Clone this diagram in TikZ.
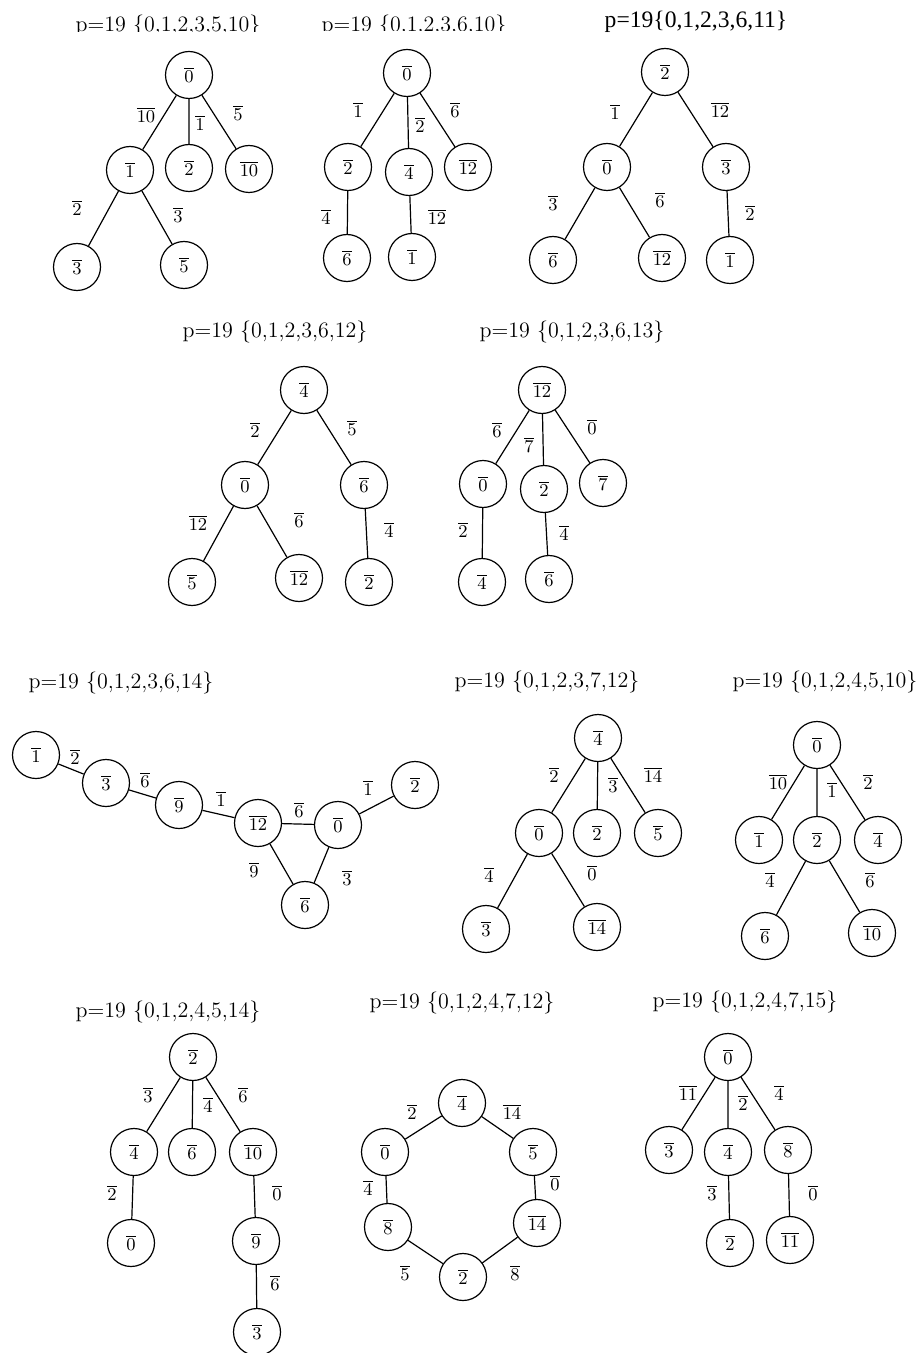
\documentclass[tikz,border=0pt]{standalone}
\usepackage{fontspec}
\newfontfamily\timesf{Liberation Serif}
\begin{document}
\begin{tikzpicture}[x=0.5pt,y=-0.5pt,
  vtx/.style={draw, circle, minimum size=23.5pt, inner sep=0pt, line width=0.6pt, font=\fontsize{9}{10}\selectfont},
  elab/.style={inner sep=0pt, font=\fontsize{9}{10}\selectfont},
  ttl/.style={inner sep=0pt, anchor=base, font=\fontsize{11}{13}\selectfont},
  edge/.style={line width=0.6pt}]
\useasboundingbox (0,0) rectangle (923,1353);
\newcommand{\ob}[1]{$\overline{#1}$}
% ---------- Graph 1
\begin{scope}
\clip (0,0) rectangle (300,31.5);
\node[ttl] (t1) at (168,32) {p=19 \{0,1,2,3,5,10\}};
\end{scope}
\node[vtx] (a0) at (189,75) {\ob{0}};
\node[vtx] (a1) at (130,170) {\ob{1}};
\node[vtx] (a2) at (189,168) {\ob{2}};
\node[vtx] (a10) at (249,169) {\ob{10}};
\node[vtx] (a3) at (77,267) {\ob{3}};
\node[vtx] (a5) at (184,265) {\ob{5}};
\draw[edge] (a0)--(a1) (a0)--(a2) (a0)--(a10) (a1)--(a3) (a1)--(a5);
\node[elab] (al1) at (146,115) {\ob{10}};
\node[elab] (al2) at (200,123) {\ob{1}};
\node[elab] (al3) at (238,113) {\ob{5}};
\node[elab] (al4) at (77,208) {\ob{2}};
\node[elab] (al5) at (178,215) {\ob{3}};
% ---------- Graph 2
\begin{scope}
\clip (300,0) rectangle (560,31);
\node[ttl] (t2) at (414,31.5) {p=19 \{0,1,2,3,6,10\}};
\end{scope}
\node[vtx] (b0) at (407,73) {\ob{0}};
\node[vtx] (b2) at (348,167) {\ob{2}};
\node[vtx] (b4) at (409,172) {\ob{4}};
\node[vtx] (b12) at (468,167) {\ob{12}};
\node[vtx] (b6) at (347,258) {\ob{6}};
\node[vtx] (b1) at (412,257) {\ob{1}};
\draw[edge] (b0)--(b2) (b0)--(b4) (b0)--(b12) (b2)--(b6) (b4)--(b1);
\node[elab] (bl1) at (358,110) {\ob{1}};
\node[elab] (bl2) at (420,125) {\ob{2}};
\node[elab] (bl3) at (455,110) {\ob{6}};
\node[elab] (bl4) at (326,217) {\ob{4}};
\node[elab] (bl5) at (437,217) {\ob{12}};
% ---------- Graph 3
\node[ttl, font=\timesf\fontsize{11.8}{14}\selectfont] (t3) at (696,28) {p=19\{0,1,2,3,6,11\}};
\node[vtx] (c2) at (665,72) {\ob{2}};
\node[vtx] (c0) at (607,167) {\ob{0}};
\node[vtx] (c3) at (726,167) {\ob{3}};
\node[vtx] (c6) at (553,260) {\ob{6}};
\node[vtx] (c12) at (662,258) {\ob{12}};
\node[vtx] (c1) at (730,260) {\ob{1}};
\draw[edge] (c2)--(c0) (c2)--(c3) (c0)--(c6) (c0)--(c12) (c3)--(c1);
\node[elab] (cl1) at (615,112) {\ob{1}};
\node[elab] (cl2) at (720,110) {\ob{12}};
\node[elab] (cl3) at (553,203) {\ob{3}};
\node[elab] (cl4) at (660,200) {\ob{6}};
\node[elab] (cl5) at (750,213) {\ob{2}};
% ---------- Graph 4
\node[ttl] (t4) at (275,337) {p=19 \{0,1,2,3,6,12\}};
\node[vtx] (d4) at (304,390) {\ob{4}};
\node[vtx] (d0) at (245,485) {\ob{0}};
\node[vtx] (d6) at (364,485) {\ob{6}};
\node[vtx] (d5) at (192,582) {\ob{5}};
\node[vtx] (d12) at (299,578) {\ob{12}};
\node[vtx] (d2) at (369,582) {\ob{2}};
\draw[edge] (d4)--(d0) (d4)--(d6) (d0)--(d5) (d0)--(d12) (d6)--(d2);
\node[elab] (dl1) at (255,430) {\ob{2}};
\node[elab] (dl2) at (352,428) {\ob{5}};
\node[elab] (dl3) at (198,523) {\ob{12}};
\node[elab] (dl4) at (299,520) {\ob{6}};
\node[elab] (dl5) at (389,530) {\ob{4}};
% ---------- Graph 5
\node[ttl] (t5) at (572,337) {p=19 \{0,1,2,3,6,13\}};
\node[vtx] (e12) at (542,390) {\ob{12}};
\node[vtx] (e0) at (483,484) {\ob{0}};
\node[vtx] (e2) at (544,489) {\ob{2}};
\node[vtx] (e7) at (603,483) {\ob{7}};
\node[vtx] (e4) at (482,582) {\ob{4}};
\node[vtx] (e6) at (549,579) {\ob{6}};
\draw[edge] (e12)--(e0) (e12)--(e2) (e12)--(e7) (e0)--(e4) (e2)--(e6);
\node[elab] (el1) at (497,430) {\ob{6}};
\node[elab] (el2) at (529,445) {\ob{7}};
\node[elab] (el3) at (592,427) {\ob{0}};
\node[elab] (el4) at (463,530) {\ob{2}};
\node[elab] (el5) at (564,533) {\ob{4}};
% ---------- Graph 6
\node[ttl] (t6) at (121,688) {p=19 \{0,1,2,3,6,14\}};
\node[vtx] (f1) at (36,755) {\ob{1}};
\node[vtx] (f3) at (106,783) {\ob{3}};
\node[vtx] (f9) at (179,805) {\ob{9}};
\node[vtx] (f12) at (258,823) {\ob{12}};
\node[vtx] (f0) at (338,825) {\ob{0}};
\node[vtx] (f2) at (415,785) {\ob{2}};
\node[vtx] (f6) at (305,905) {\ob{6}};
\draw[edge] (f1)--(f3) (f3)--(f9) (f9)--(f12) (f12)--(f0) (f0)--(f2) (f12)--(f6) (f0)--(f6);
\node[elab] (fl1) at (75,757) {\ob{2}};
\node[elab] (fl2) at (145,780) {\ob{6}};
\node[elab] (fl3) at (221,799) {\ob{1}};
\node[elab] (fl4) at (299,810) {\ob{6}};
\node[elab] (fl5) at (368,788) {\ob{1}};
\node[elab] (fl6) at (254,870) {\ob{9}};
\node[elab] (fl7) at (347,878) {\ob{3}};
% ---------- Graph 7
\node[ttl] (t7) at (547,687) {p=19 \{0,1,2,3,7,12\}};
\node[vtx] (g4) at (598,738) {\ob{4}};
\node[vtx] (g0) at (539,833) {\ob{0}};
\node[vtx] (g2) at (597,833) {\ob{2}};
\node[vtx] (g5) at (658,833) {\ob{5}};
\node[vtx] (g3) at (486,929) {\ob{3}};
\node[vtx] (g14) at (597,927) {\ob{14}};
\draw[edge] (g4)--(g0) (g4)--(g2) (g4)--(g5) (g0)--(g3) (g0)--(g14);
\node[elab] (gl1) at (554,775) {\ob{2}};
\node[elab] (gl2) at (613,785) {\ob{3}};
\node[elab] (gl3) at (653,775) {\ob{14}};
\node[elab] (gl4) at (489,875) {\ob{4}};
\node[elab] (gl5) at (592,873) {\ob{0}};
% ---------- Graph 8
\node[ttl] (t8) at (825,687) {p=19 \{0,1,2,4,5,10\}};
\node[vtx] (h0) at (817,745) {\ob{0}};
\node[vtx] (h1) at (759,840) {\ob{1}};
\node[vtx] (h2) at (817,840) {\ob{2}};
\node[vtx] (h4) at (878,840) {\ob{4}};
\node[vtx] (h6) at (765,936) {\ob{6}};
\node[vtx] (h10) at (872,933) {\ob{10}};
\draw[edge] (h0)--(h1) (h0)--(h2) (h0)--(h4) (h2)--(h6) (h2)--(h10);
\node[elab] (hl1) at (778,782) {\ob{10}};
\node[elab] (hl2) at (832,790) {\ob{1}};
\node[elab] (hl3) at (868,782) {\ob{2}};
\node[elab] (hl4) at (770,880) {\ob{4}};
\node[elab] (hl5) at (870,880) {\ob{6}};
% ---------- Graph 9
\node[ttl] (t9) at (168,1017) {p=19 \{0,1,2,4,5,14\}};
\node[vtx] (i2) at (193,1057) {\ob{2}};
\node[vtx] (i4) at (134,1152) {\ob{4}};
\node[vtx] (i6) at (192,1152) {\ob{6}};
\node[vtx] (i10) at (253,1152) {\ob{10}};
\node[vtx] (i0) at (131,1243) {\ob{0}};
\node[vtx] (i9) at (256,1241) {\ob{9}};
\node[vtx] (i3) at (257,1332) {\ob{3}};
\draw[edge] (i2)--(i4) (i2)--(i6) (i2)--(i10) (i4)--(i0) (i10)--(i9) (i9)--(i3);
\node[elab] (il1) at (148,1095) {\ob{3}};
\node[elab] (il2) at (208,1105) {\ob{4}};
\node[elab] (il3) at (243,1095) {\ob{6}};
\node[elab] (il4) at (112,1193) {\ob{2}};
\node[elab] (il5) at (277,1193) {\ob{0}};
\node[elab] (il6) at (275,1283) {\ob{6}};
% ---------- Graph 10
\node[ttl] (t10) at (462,1008) {p=19 \{0,1,2,4,7,12\}};
\node[vtx] (j4) at (462,1103) {\ob{4}};
\node[vtx] (j0) at (385,1152) {\ob{0}};
\node[vtx] (j5) at (533,1152) {\ob{5}};
\node[vtx] (j8) at (388,1227) {\ob{8}};
\node[vtx] (j14) at (537,1223) {\ob{14}};
\node[vtx] (j2) at (463,1277) {\ob{2}};
\draw[edge] (j4)--(j0) (j4)--(j5) (j0)--(j8) (j5)--(j14) (j8)--(j2) (j14)--(j2);
\node[elab] (jl1) at (412,1112) {\ob{2}};
\node[elab] (jl2) at (512,1112) {\ob{14}};
\node[elab] (jl3) at (368,1188) {\ob{4}};
\node[elab] (jl4) at (555,1183) {\ob{0}};
\node[elab] (jl5) at (405,1273) {\ob{5}};
\node[elab] (jl6) at (515,1273) {\ob{8}};
% ---------- Graph 11
\node[ttl] (t11) at (745,1007) {p=19 \{0,1,2,4,7,15\}};
\node[vtx] (k0) at (728,1057) {\ob{0}};
\node[vtx] (k3) at (669,1150) {\ob{3}};
\node[vtx] (k4) at (728,1152) {\ob{4}};
\node[vtx] (k8) at (788,1150) {\ob{8}};
\node[vtx] (k2) at (730,1243) {\ob{2}};
\node[vtx] (k11) at (790,1240) {\ob{11}};
\draw[edge] (k0)--(k3) (k0)--(k4) (k0)--(k8) (k4)--(k2) (k8)--(k11);
\node[elab] (kl1) at (688,1093) {\ob{11}};
\node[elab] (kl2) at (743,1103) {\ob{2}};
\node[elab] (kl3) at (779,1093) {\ob{4}};
\node[elab] (kl4) at (712,1193) {\ob{3}};
\node[elab] (kl5) at (813,1193) {\ob{0}};
\end{tikzpicture}
\end{document}
